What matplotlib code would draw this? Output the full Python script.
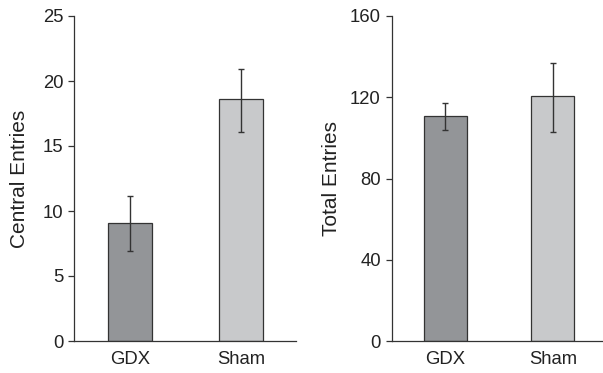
import matplotlib
matplotlib.use("Agg")
import matplotlib.pyplot as plt

groups = ["GDX", "Sham"]
central_mean = [9.1, 18.6]
central_err_hi = [11.15, 20.95]
central_err_lo = [6.9, 16.1]
total_mean = [110.6, 120.5]
total_err_hi = [117.0, 137.0]
total_err_lo = [103.7, 103.0]
colors = ["#939598", "#c8c9cb"]

plt.rcParams['font.family'] = ['Liberation Sans', 'DejaVu Sans']

fig = plt.figure(figsize=(6.03, 3.73), dpi=100)
ax1 = fig.add_axes([74/603, 32/373, 222/603, 325/373])
ax2 = fig.add_axes([391.5/603, 32/373, 214/603, 325/373])

def draw(ax, means, hi, lo, ylim, yticks, ylabel, xlim, labelpad):
    x = list(range(len(groups)))
    yerr = [[m - l for m, l in zip(means, lo)], [h - m for m, h in zip(means, hi)]]
    ax.bar(x, means, width=0.4, color=colors, edgecolor="#333333", linewidth=0.9, zorder=2)
    ax.errorbar(x, means, yerr=yerr, fmt="none", ecolor="#333333", elinewidth=1.0,
                capsize=2.5, capthick=1.0, zorder=3)
    ax.set_ylim(*ylim)
    ax.set_xlim(*xlim)
    ax.set_yticks(yticks)
    ax.set_xticks(x)
    ax.set_xticklabels(groups)
    ax.tick_params(axis="x", length=0, pad=7.5, labelsize=13.3, colors="#222222")
    ax.tick_params(axis="y", length=4.5, width=0.9, direction="out", labelsize=13.3,
                   pad=3.2, color="#333333", labelcolor="#222222")
    for s in ["top", "right"]:
        ax.spines[s].set_visible(False)
    for s in ["left", "bottom"]:
        ax.spines[s].set_linewidth(0.9)
        ax.spines[s].set_color("#333333")
    ax.set_ylabel(ylabel, fontsize=15, labelpad=labelpad, color="#222222")

draw(ax1, central_mean, central_err_hi, central_err_lo, (0, 25), [0, 5, 10, 15, 20, 25],
     "Central Entries", (-0.505, 1.495), 9.5)
draw(ax2, total_mean, total_err_hi, total_err_lo, (0, 160), [0, 40, 80, 120, 160],
     "Total Entries", (-0.502, 1.49), 6.5)

fig.savefig("out.png", dpi=100)
